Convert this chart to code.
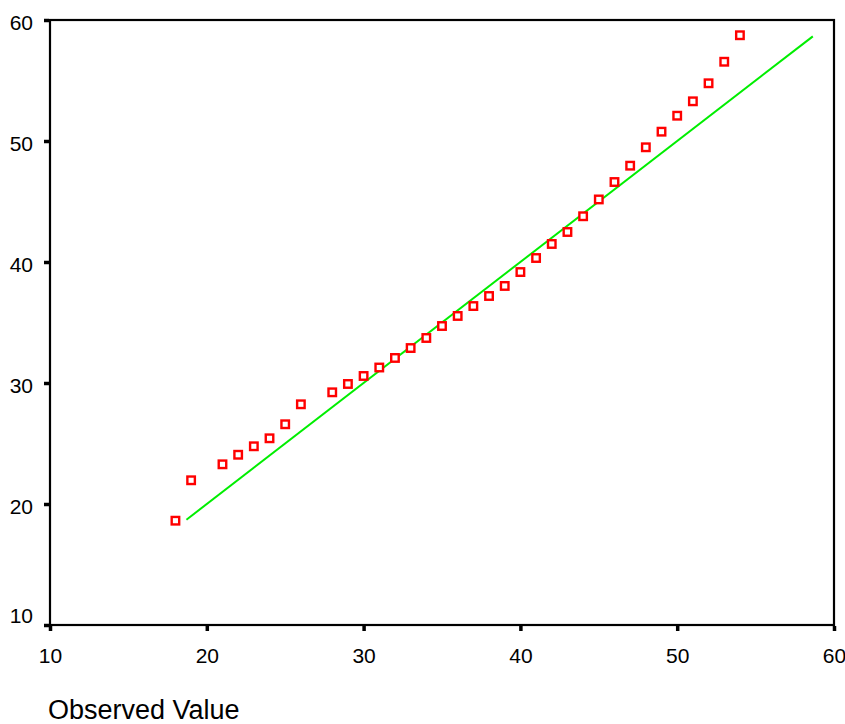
<!DOCTYPE html>
<html>
<head>
<meta charset="utf-8">
<script src="https://cdn.jsdelivr.net/npm/d3@7"></script>
<style>
    body { margin: 0; background: #ffffff; }
    svg { display: block; }
</style>
</head>
<body>
<div id="qq_plot"></div>
<script>
const POINT_COLOR = "#ff0000";
const LINE_COLOR = "#00ee00";

const observed = [18, 19, 21, 22, 23, 24, 25, 26, 28, 29, 30, 31, 32, 33, 34, 35, 36, 37,
    38, 39, 40, 41, 42, 43, 44, 45, 46, 47, 48, 49, 50, 51, 52, 53, 54];
const expected = [18.62, 21.96, 23.28, 24.07, 24.77, 25.43, 26.59, 28.24, 29.23, 29.92,
    30.58, 31.28, 32.07, 32.89, 33.72, 34.71, 35.54, 36.36, 37.19, 38.02, 39.17, 40.33,
    41.49, 42.48, 43.78, 45.17, 46.61, 47.96, 49.48, 50.77, 52.09, 53.28, 54.77, 56.55, 58.74];
const refLine = [18.7, 58.65];
const xTicks = [10, 20, 30, 40, 50, 60];
const yTicks = [10, 20, 30, 40, 50, 60];
const xTitle = "Observed Value";

const data = observed.map((d, i) => ({ obs: d, exp: expected[i] }));

const margin = {
    top: 20,
    right: 11,
    bottom: 99,
    left: 50
};
const width = 845 - margin.left - margin.right;
const height = 724 - margin.top - margin.bottom;

const x = d3
    .scaleLinear()
    .domain([10, 60])
    .range([0, width]);

const y = d3
    .scaleLinear()
    .domain([10, 60])
    .range([height, 0]);

const xAxis = d3
    .axisBottom()
    .scale(x)
    .tickValues(xTicks)
    .tickSize(5)
    .tickPadding(17)
    .tickSizeOuter(0);

const yAxis = d3
    .axisLeft()
    .scale(y)
    .tickValues(yTicks)
    .tickSize(5)
    .tickPadding(11)
    .tickSizeOuter(0);

const svg = d3
    .select("div#qq_plot")
    .append("svg")
    .attr("width", 845)
    .attr("height", 724)
    .append("g")
    .attr("transform", "translate(" + margin.left + "," + margin.top + ")");

const gx = svg
    .append("g")
    .attr("class", "xAxis")
    .attr("transform", "translate(0," + (height + 1) + ")")
    .call(xAxis);

const gy = svg
    .append("g")
    .attr("class", "yAxis")
    .attr("transform", "translate(-1,0)")
    .call(yAxis);

for (let g of [gx, gy]) {
    g.select(".domain").remove();
    g.selectAll(".tick line")
        .attr("stroke", "#000")
        .attr("stroke-width", 3.5);
    g.selectAll("text")
        .attr("fill", "#000")
        .attr("font-family", "Liberation Sans, Arial, sans-serif")
        .attr("font-size", "21px");
}

// y labels sit a little under their tick, the lowest one is lifted off the x labels
gy.selectAll(".tick text")
    .attr("dy", d => d == 10 ? "-0.1em" : "0.47em");

svg
    .append("rect")
    .attr("x", 0)
    .attr("y", 0)
    .attr("width", width)
    .attr("height", height)
    .attr("fill", "none")
    .attr("stroke", "#000")
    .attr("stroke-width", 2.2);

svg
    .append("line")
    .attr("x1", x(refLine[0]))
    .attr("y1", y(refLine[0]))
    .attr("x2", x(refLine[1]))
    .attr("y2", y(refLine[1]))
    .attr("stroke", LINE_COLOR)
    .attr("stroke-width", 2);

const size = 7.5;

svg
    .append("g")
    .attr("class", "dots")
    .selectAll("rect")
    .data(data)
    .join("rect")
    .attr("x", d => x(d.obs) - size / 2)
    .attr("y", d => y(d.exp) - size / 2)
    .attr("width", size)
    .attr("height", size)
    .attr("fill", "#fff")
    .attr("stroke", POINT_COLOR)
    .attr("stroke-width", 2.4);

svg
    .append("text")
    .attr("x", -2)
    .attr("y", 699)
    .attr("font-family", "Liberation Sans, Arial, sans-serif")
    .attr("font-size", "27px")
    .attr("fill", "#000")
    .text(xTitle);
</script>
</body>
</html>
